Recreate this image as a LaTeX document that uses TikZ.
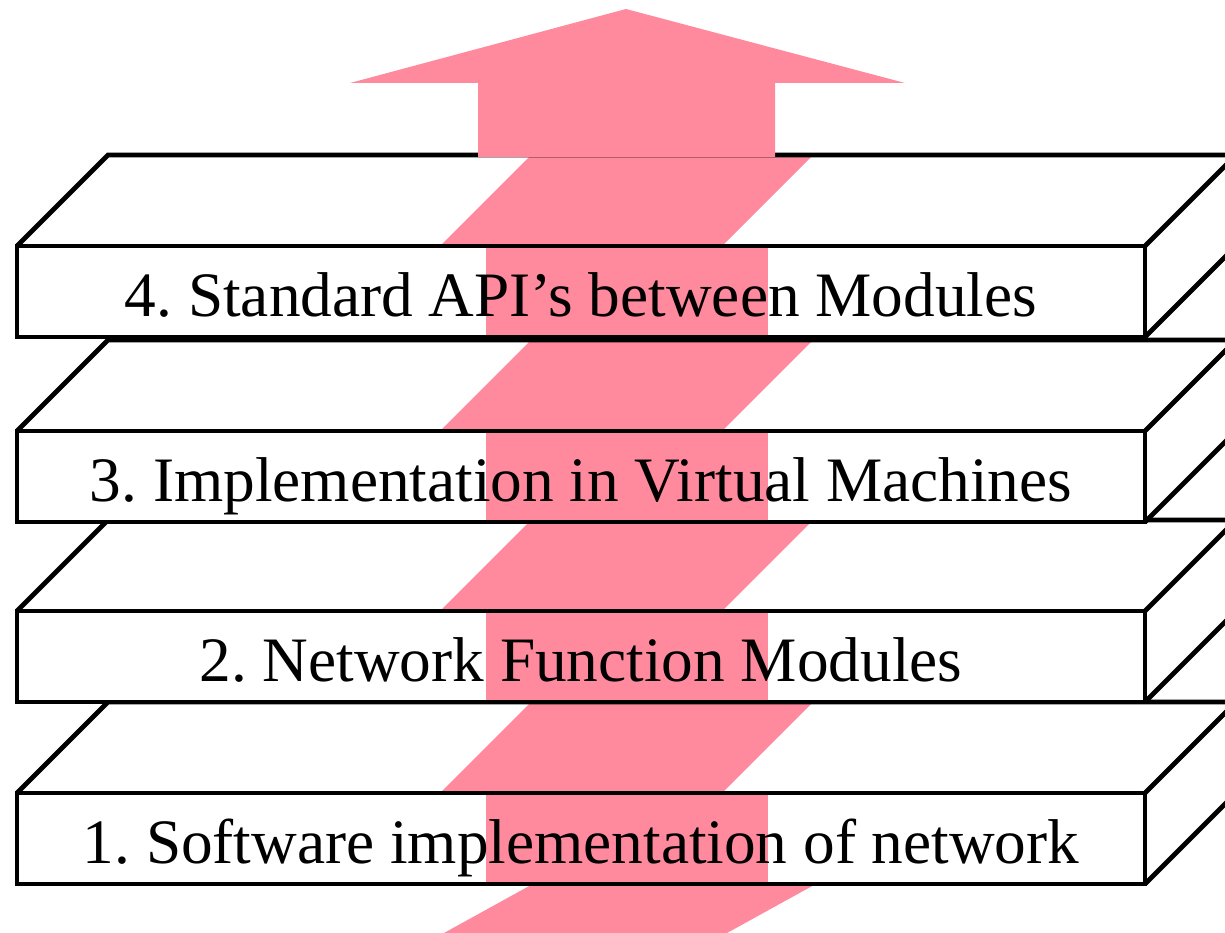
\documentclass[tikz,border=0pt]{standalone}
\usepackage{fontspec}
\setmainfont{Liberation Serif}
\frenchspacing
\definecolor{arrowpink}{RGB}{255,137,157}

\begin{document}
\begin{tikzpicture}[x=0.025cm, y=-0.025cm, line width=3.3pt, line join=miter,
    slabtext/.style={anchor=base, font=\fontsize{45}{54}\selectfont}]
\useasboundingbox (0,0) rectangle (1225,933);
\clip (0,0) rectangle (1225,933);
\coordinate (Slab1L) at (17, 793);
\coordinate (Slab2L) at (17, 611);
\coordinate (Slab3L) at (17, 431);
\coordinate (Slab4L) at (17, 246);
\coordinate (Band1) at (486, 793);
\coordinate (Band2) at (486, 611);
\coordinate (Band3) at (486, 431);
\coordinate (Band4) at (486, 246);
\coordinate (Tail) at (531, 885);
\coordinate (ArrowTip) at (626, 9);
% tail of the arrow under the bottom slab
\fill[arrowpink] (Tail) -- ++(283,0) -- ++(-174,96) -- ++(-283,0) -- cycle;
% slab 1
\fill[white] (Slab1L) -- ++(91,-91) -- ++(1128,0) -- ++(0,91) -- ++(-91,91) -- ++(-1128,0) -- cycle;
\fill[arrowpink] (Band1) ++(-46,0) -- ++(91,-91) -- ++(282,0) -- ++(-91,91) -- cycle;
\fill[arrowpink] (Band1) rectangle ++(282,91);
    \draw (Slab1L) rectangle ++(1128,91);
    \draw (Slab1L) -- ++(91,-91) -- ++(1128,0) -- ++(0,91) -- ++(-91,91);
    \draw (Slab1L) ++(1128,0) -- ++(91,-91);
\node[slabtext] (Slab1Text) at (581, 863) {1. Software implementation of network};
% slab 2
\fill[white] (Slab2L) -- ++(91,-91) -- ++(1128,0) -- ++(0,91) -- ++(-91,91) -- ++(-1128,0) -- cycle;
\fill[arrowpink] (Band2) ++(-46,0) -- ++(91,-91) -- ++(282,0) -- ++(-91,91) -- cycle;
\fill[arrowpink] (Band2) rectangle ++(282,91);
    \draw (Slab2L) rectangle ++(1128,91);
    \draw (Slab2L) -- ++(91,-91) -- ++(1128,0) -- ++(0,91) -- ++(-91,91);
    \draw (Slab2L) ++(1128,0) -- ++(91,-91);
\node[slabtext] (Slab2Text) at (581, 681) {2. Network Function Modules};
% slab 3
\fill[white] (Slab3L) -- ++(91,-91) -- ++(1128,0) -- ++(0,91) -- ++(-91,91) -- ++(-1128,0) -- cycle;
\fill[arrowpink] (Band3) ++(-46,0) -- ++(91,-91) -- ++(282,0) -- ++(-91,91) -- cycle;
\fill[arrowpink] (Band3) rectangle ++(282,91);
    \draw (Slab3L) rectangle ++(1128,91);
    \draw (Slab3L) -- ++(91,-91) -- ++(1128,0) -- ++(0,91) -- ++(-91,91);
    \draw (Slab3L) ++(1128,0) -- ++(91,-91);
\node[slabtext] (Slab3Text) at (581, 501) {3. Implementation in Virtual Machines};
% slab 4
\fill[white] (Slab4L) -- ++(91,-91) -- ++(1128,0) -- ++(0,91) -- ++(-91,91) -- ++(-1128,0) -- cycle;
\fill[arrowpink] (Band4) ++(-46,0) -- ++(91,-91) -- ++(282,0) -- ++(-91,91) -- cycle;
\fill[arrowpink] (Band4) rectangle ++(282,91);
    \draw (Slab4L) rectangle ++(1128,91);
    \draw (Slab4L) -- ++(91,-91) -- ++(1128,0) -- ++(0,91) -- ++(-91,91);
    \draw (Slab4L) ++(1128,0) -- ++(91,-91);
\node[slabtext] (Slab4Text) at (581, 316) {4. Standard API's between Modules};
% head of the arrow on top
\fill[arrowpink] (478, 157) -- (478, 83) -- (350, 83) -- (ArrowTip) -- (905, 83) -- (775, 83) -- (775, 157) -- cycle;
\end{tikzpicture}
\end{document}
